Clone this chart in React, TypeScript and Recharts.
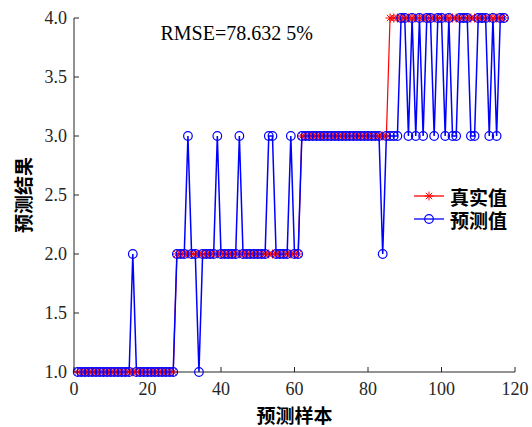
import React from 'react';
import { LineChart, Line, XAxis, YAxis } from 'recharts';

// 真实值 (samples 1-117)
const trueValues = [
  1, 1, 1, 1, 1, 1, 1, 1, 1, 1,
  1, 1, 1, 1, 1, 1, 1, 1, 1, 1,
  1, 1, 1, 1, 1, 1, 1, 2, 2, 2,
  2, 2, 2, 2, 2, 2, 2, 2, 2, 2,
  2, 2, 2, 2, 2, 2, 2, 2, 2, 2,
  2, 2, 2, 2, 2, 2, 2, 2, 2, 2,
  2, 3, 3, 3, 3, 3, 3, 3, 3, 3,
  3, 3, 3, 3, 3, 3, 3, 3, 3, 3,
  3, 3, 3, 3, 3, 4, 4, 4, 4, 4,
  4, 4, 4, 4, 4, 4, 4, 4, 4, 4,
  4, 4, 4, 4, 4, 4, 4, 4, 4, 4,
  4, 4, 4, 4, 4, 4, 4,
];

// 预测值 (samples 1-117)
const predValues = [
  1, 1, 1, 1, 1, 1, 1, 1, 1, 1,
  1, 1, 1, 1, 1, 2, 1, 1, 1, 1,
  1, 1, 1, 1, 1, 1, 1, 2, 2, 2,
  3, 2, 2, 1, 2, 2, 2, 2, 3, 2,
  2, 2, 2, 2, 3, 2, 2, 2, 2, 2,
  2, 2, 3, 3, 2, 2, 2, 2, 3, 2,
  2, 3, 3, 3, 3, 3, 3, 3, 3, 3,
  3, 3, 3, 3, 3, 3, 3, 3, 3, 3,
  3, 3, 3, 2, 3, 3, 3, 3, 4, 4,
  3, 4, 3, 4, 3, 4, 4, 3, 4, 4,
  3, 4, 3, 3, 4, 4, 4, 3, 3, 4,
  4, 4, 3, 4, 3, 4, 4,
];

const xTicks = [0, 20, 40, 60, 80, 100, 120];
const yTicks = [1, 1.5, 2, 2.5, 3, 3.5, 4];
const seriesNames = ['真实值', '预测值'];
const rmseText = 'RMSE=78.632 5%';

const data = trueValues.map((v, i) => ({
  sample: i + 1,
  actual: v,
  predicted: predValues[i],
}));

const SERIF = '"Liberation Serif", "Times New Roman", serif';
const CJK = '"Noto Sans CJK SC", "Noto Sans", sans-serif';
const AXIS = '#262626';
const RED = '#FF0000';
const BLUE = '#0000FF';

// MATLAB style '*' marker
const Star = ({ cx, cy, s = 4.5 }: { cx: number; cy: number; s?: number }) => {
  const d = s * 0.7071;
  return (
    <g stroke={RED} strokeWidth={1}>
      <line x1={cx - s} y1={cy} x2={cx + s} y2={cy} />
      <line x1={cx} y1={cy - s} x2={cx} y2={cy + s} />
      <line x1={cx - d} y1={cy - d} x2={cx + d} y2={cy + d} />
      <line x1={cx - d} y1={cy + d} x2={cx + d} y2={cy - d} />
    </g>
  );
};

const renderStar = (props: any) => {
  const { cx, cy, index } = props;
  if (cx == null || cy == null) return <g key={`s-${index}`} />;
  return (
    <g key={`s-${index}`}>
      <Star cx={cx} cy={cy} />
    </g>
  );
};

const XTick = (props: any) => {
  const { x, y, payload } = props;
  return (
    <text x={x} y={y} dy="0.71em" textAnchor="middle" fontFamily={SERIF} fontSize={18} fill={AXIS}>
      {payload.value}
    </text>
  );
};

const YTick = (props: any) => {
  const { x, y, payload } = props;
  return (
    <text x={x} y={y} dy="0.355em" textAnchor="end" fontFamily={SERIF} fontSize={18} fill={AXIS}>
      {Number(payload.value).toFixed(1)}
    </text>
  );
};

const YLabel = (props: any) => {
  const { viewBox } = props;
  const x = viewBox.x + 22;
  const y = viewBox.y + viewBox.height / 2;
  return (
    <text
      x={x}
      y={y}
      transform={`rotate(-90, ${x}, ${y})`}
      textAnchor="middle"
      dominantBaseline="central"
      fontFamily={CJK}
      fontWeight="bold"
      fontSize={19}
      fill="#000"
    >
      预测结果
    </text>
  );
};

const LegendBox = () => (
  <g transform="translate(412, 184)">
    {seriesNames.map((name, i) => {
      const y = 12 + i * 23;
      const color = i === 0 ? RED : BLUE;
      return (
        <g key={name}>
          <line x1={2} y1={y} x2={32} y2={y} stroke={color} strokeWidth={1.3} />
          {i === 0 ? (
            <Star cx={17} cy={y} />
          ) : (
            <circle cx={17} cy={y} r={4.3} stroke={BLUE} strokeWidth={1.2} fill="none" />
          )}
          <text
            x={38}
            y={y}
            dominantBaseline="central"
            fontFamily={CJK}
            fontWeight="bold"
            fontSize={19}
            fill="#000"
          >
            {name}
          </text>
        </g>
      );
    })}
  </g>
);

export default function App() {
  return (
    <div style={{ position: 'absolute', left: 0, top: 0, width: 532, height: 427, background: '#fff' }}>
      <LineChart
        width={532}
        height={427}
        data={data}
        margin={{ top: 18, right: 17, bottom: 0, left: 0 }}
      >
        <XAxis
          dataKey="sample"
          type="number"
          domain={[0, 120]}
          ticks={xTicks}
          height={55}
          stroke={AXIS}
          axisLine={{ stroke: AXIS, strokeWidth: 1 }}
          tickLine={{ stroke: AXIS, strokeWidth: 1 }}
          tickSize={-5}
          tickMargin={15}
          tick={<XTick />}
          label={{
            value: '预测样本',
            position: 'insideBottom',
            offset: 4,
            fill: '#000',
            fontFamily: CJK,
            fontWeight: 'bold',
            fontSize: 19,
          }}
        />
        <YAxis
          type="number"
          domain={[1, 4]}
          ticks={yTicks}
          width={74}
          stroke={AXIS}
          axisLine={{ stroke: AXIS, strokeWidth: 1 }}
          tickLine={{ stroke: AXIS, strokeWidth: 1 }}
          tickSize={-5}
          tickMargin={12}
          tick={<YTick />}
          label={<YLabel />}
        />
        <Line
          type="linear"
          dataKey="actual"
          name={seriesNames[0]}
          stroke={RED}
          strokeWidth={1.2}
          dot={renderStar}
          activeDot={false}
          isAnimationActive={false}
        />
        <Line
          type="linear"
          dataKey="predicted"
          name={seriesNames[1]}
          stroke={BLUE}
          strokeWidth={1.5}
          dot={{ r: 4.3, stroke: BLUE, strokeWidth: 1.2, fill: 'none' }}
          activeDot={false}
          isAnimationActive={false}
        />
      </LineChart>
      <svg
        width={532}
        height={427}
        style={{ position: 'absolute', left: 0, top: 0, pointerEvents: 'none' }}
      >
        <text x={160.5} y={40} fontFamily={SERIF} fontSize={20} fill="#000">
          {rmseText}
        </text>
        <LegendBox />
      </svg>
    </div>
  );
}
